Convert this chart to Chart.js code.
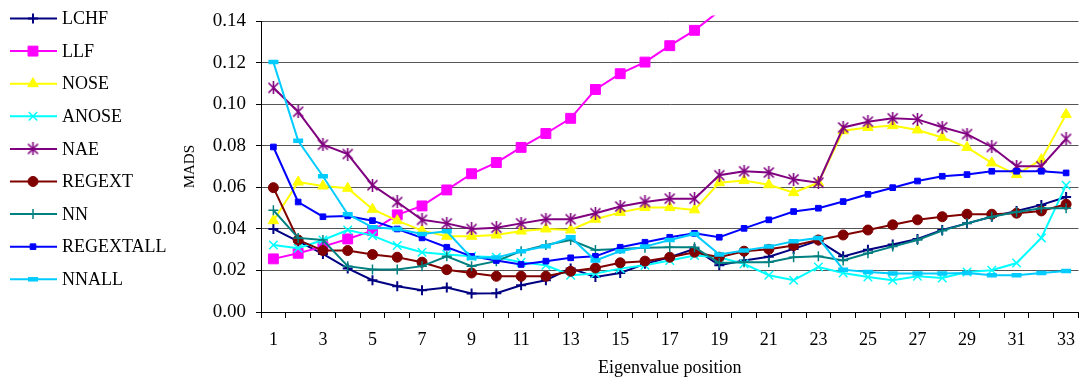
<!DOCTYPE html>
<html>
<head>
<meta charset="utf-8">
<script src="https://cdn.jsdelivr.net/npm/chart.js@4/dist/chart.umd.min.js"></script>
<style>
  html, body { margin: 0; padding: 0; background: #fff; }
  #wrap { width: 1088px; height: 381px; position: relative; }
</style>
</head>
<body>
<div id="wrap"><canvas id="mads"></canvas></div>
<script>
// ─── Data ─────────────────────────────────────────────────────────────────────
const POSITIONS = ['1','2','3','4','5','6','7','8','9','10','11','12','13','14','15','16','17',
                   '18','19','20','21','22','23','24','25','26','27','28','29','30','31','32','33'];
const Y_TICKS   = [0, 0.02, 0.04, 0.06, 0.08, 0.10, 0.12, 0.14];

const LCHF      = [0.040,0.034,0.028,0.021,0.0153,0.0124,0.0105,0.0118,0.0089,0.009,0.0129,0.0153,0.021,0.0169,0.0188,0.0232,0.0264,
                   0.0304,0.0225,0.0248,0.0266,0.0304,0.0344,0.0268,0.030,0.0325,0.0352,0.0395,0.0427,0.0459,0.0487,0.0516,0.0554];
// LLF leaves the plot after position 19; the rest cannot be read
const LLF       = [0.0256,0.0283,0.0315,0.0352,0.0392,0.0468,0.0511,0.0588,0.0666,0.072,0.0793,0.086,0.0933,0.1072,0.1148,0.1204,0.1283,
                   0.1357,0.145,null,null,null,null,null,null,null,null,null,null,null,null,null,null];
const NOSE      = [0.044,0.0626,0.0607,0.0596,0.0495,0.044,0.0392,0.0365,0.0365,0.0371,0.039,0.040,0.0395,0.0447,0.048,0.0503,0.0503,
                   0.0492,0.0623,0.0634,0.0613,0.0575,0.0623,0.0873,0.0889,0.0898,0.0877,0.0841,0.0793,0.0718,0.0662,0.0734,0.0952];
const ANOSE     = [0.0323,0.0307,0.0347,0.0395,0.0368,0.032,0.0288,0.0277,0.0268,0.0264,0.024,0.0225,0.0177,0.0185,0.0209,0.0225,0.0248,
                   0.0272,0.0264,0.0232,0.0177,0.0153,0.0217,0.0188,0.0169,0.0153,0.0172,0.0164,0.0193,0.0201,0.0236,0.0357,0.0611];
const NAE       = [0.108,0.0965,0.0806,0.0761,0.0611,0.053,0.0444,0.0427,0.040,0.0406,0.0427,0.0447,0.0447,0.0476,0.0508,0.053,0.0546,
                   0.0546,0.0659,0.0678,0.0672,0.0639,0.0623,0.0889,0.0917,0.0933,0.0928,0.089,0.0857,0.0795,0.0702,0.0702,0.0834];
const REGEXT    = [0.0599,0.0347,0.0296,0.0296,0.0277,0.0264,0.024,0.0204,0.0188,0.0172,0.0172,0.0172,0.0196,0.0212,0.0237,0.0245,0.0264,
                   0.0288,0.0264,0.0293,0.0302,0.032,0.0347,0.0371,0.0395,0.042,0.0444,0.0459,0.0471,0.0471,0.0476,0.0487,0.0519];
const NN        = [0.049,0.0357,0.0347,0.0221,0.0205,0.0205,0.0221,0.0268,0.0221,0.0245,0.0293,0.0323,0.0347,0.0299,0.0304,0.0309,0.0312,
                   0.0312,0.0236,0.024,0.024,0.0264,0.0268,0.0248,0.0283,0.0315,0.0347,0.0392,0.0427,0.0459,0.0482,0.050,0.050];
const REGEXTALL = [0.0795,0.053,0.0459,0.0463,0.044,0.040,0.0357,0.0312,0.0268,0.0248,0.0229,0.0245,0.0261,0.0268,0.0312,0.0336,0.036,
                   0.0379,0.036,0.0403,0.0444,0.0484,0.050,0.0532,0.0567,0.0599,0.0631,0.0654,0.0662,0.0678,0.0678,0.0678,0.067];
const NNALL     = [0.1204,0.0825,0.0654,0.0471,0.0408,0.040,0.0376,0.0389,0.026,0.0262,0.0293,0.0317,0.036,0.0248,0.0293,0.0315,0.0347,
                   0.0376,0.0277,0.0296,0.0315,0.0341,0.0357,0.0204,0.0193,0.0185,0.0185,0.0185,0.0188,0.0177,0.0177,0.0188,0.0197];

// ─── Excel-like star marker (X plus vertical bar) ─────────────────────────────
function starMarker(color) {
  const c = document.createElement('canvas');
  c.width = 13; c.height = 13;
  const g = c.getContext('2d');
  g.strokeStyle = color; g.lineWidth = 1.6;
  g.beginPath();
  g.moveTo(1.5, 1.5); g.lineTo(11.5, 11.5);
  g.moveTo(11.5, 1.5); g.lineTo(1.5, 11.5);
  g.moveTo(6.5, 0); g.lineTo(6.5, 13);
  g.stroke();
  return c;
}

// ─── Series styling ───────────────────────────────────────────────────────────
const SERIES = [
  { label: 'LCHF',      data: LCHF,      color: '#000080', style: 'cross',    r: 5, bw: 2   },
  { label: 'LLF',       data: LLF,       color: '#ff00ff', style: 'rect',     r: 7, bw: 1   },
  { label: 'NOSE',      data: NOSE,      color: '#ffff00', style: 'triangle', r: 6, bw: 1   },
  { label: 'ANOSE',     data: ANOSE,     color: '#00ffff', style: 'crossRot', r: 6, bw: 1.5 },
  { label: 'NAE',       data: NAE,       color: '#800080', style: starMarker('#800080'), r: 6, bw: 1.5 },
  { label: 'REGEXT',    data: REGEXT,    color: '#800000', style: 'circle',   r: 5, bw: 1   },
  { label: 'NN',        data: NN,        color: '#008080', style: 'cross',    r: 5, bw: 1.5 },
  { label: 'REGEXTALL', data: REGEXTALL, color: '#0000ff', style: 'rect',     r: 4, bw: 1   },
  { label: 'NNALL',     data: NNALL,     color: '#00ccff', style: 'line',     r: 5, bw: 4.5 },
];

const FONT = 'Liberation Serif';
Chart.defaults.font.family = FONT;
Chart.defaults.color = '#000';

// ─── Left-hand legend (line through marker, Excel style) ──────────────────────
const sideLegend = {
  id: 'sideLegend',
  afterDraw(chart) {
    const ctx = chart.ctx;
    ctx.save();
    SERIES.forEach((s, i) => {
      const y = 18.5 + i * 32.6;
      ctx.strokeStyle = s.color; ctx.fillStyle = s.color;
      ctx.lineWidth = 2;
      ctx.beginPath(); ctx.moveTo(10, y); ctx.lineTo(57, y); ctx.stroke();
      ctx.lineWidth = s.bw;
      Chart.helpers.drawPoint(ctx, { pointStyle: s.style, radius: s.r, rotation: 0, borderWidth: s.bw }, 33, y);
      ctx.fillStyle = '#000';
      ctx.font = `18px "${FONT}"`;
      ctx.textAlign = 'left'; ctx.textBaseline = 'middle';
      ctx.fillText(s.label, 62, y + 1);
    });
    ctx.restore();
  },
};

// ─── Chart ────────────────────────────────────────────────────────────────────
new Chart(document.getElementById('mads').getContext('2d'), {
  type: 'line',
  data: {
    labels: POSITIONS,
    datasets: SERIES.map((s, i) => ({
      label: s.label,
      data: s.data,
      borderColor: s.color,
      backgroundColor: s.color,
      borderWidth: 2,
      pointStyle: s.style,
      pointRadius: s.r,
      pointBorderWidth: s.bw,
      pointBackgroundColor: s.color,
      pointBorderColor: s.color,
      tension: 0, spanGaps: false,
      order: SERIES.length - i,
      clip: { left: 6, top: 6, right: 6, bottom: 6 },
    })),
  },
  options: {
    responsive: true, maintainAspectRatio: false, animation: false,
    layout: { padding: { left: 176, top: 19, right: 3, bottom: 0 } },
    plugins: { legend: { display: false }, tooltip: { enabled: false } },
    scales: {
      x: {
        offset: true,
        afterFit: sc => { sc.height = 69; },
        grid: { offset: true, drawOnChartArea: false, drawTicks: true, tickLength: 6, color: '#000' },
        border: { color: '#000', width: 1 },
        ticks: {
          autoSkip: false, maxRotation: 0, minRotation: 0, padding: 11,
          font: { size: 18 },
          callback: (v, i) => (i % 2 === 0 ? POSITIONS[i] : ''),
        },
        title: { display: true, text: 'Eigenvalue position', font: { size: 18 }, padding: { bottom: 2 } },
      },
      y: {
        min: Y_TICKS[0], max: Y_TICKS[Y_TICKS.length - 1],
        afterFit: sc => { sc.width = 85; },
        afterBuildTicks: sc => { sc.ticks = Y_TICKS.map(v => ({ value: v })); },
        grid: { color: '#555', tickColor: '#000', tickLength: 5, lineWidth: 1 },
        border: { color: '#000', width: 1 },
        ticks: { padding: 10, font: { size: 19 }, callback: v => v.toFixed(2) },
        title: { display: true, text: 'MADS', font: { size: 15 }, padding: { top: 5 } },
      },
    },
  },
  plugins: [sideLegend],
});
</script>
</body>
</html>
